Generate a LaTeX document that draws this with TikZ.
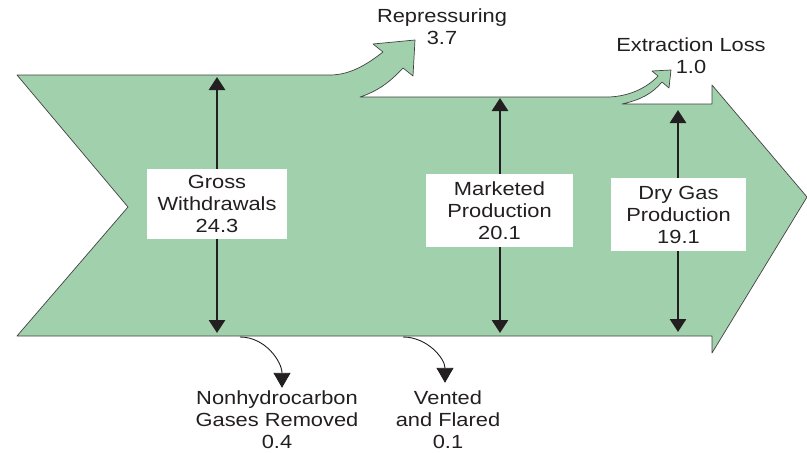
\documentclass[tikz,border=0pt]{standalone}
\usepackage{fontspec}
\setmainfont[FakeStretch=1.15]{Liberation Sans}
\usetikzlibrary{arrows.meta}
\definecolor{gasgreen}{RGB}{160,209,172}
\definecolor{ink}{RGB}{35,31,32}
\begin{document}
\begin{tikzpicture}[x=1pt,y=-1pt,line join=round,font=\fontsize{19}{22}\selectfont,
	valbox/.style={fill=white,align=center,inner sep=0pt,text=ink},
	lbl/.style={align=center,inner sep=0pt,text=ink},
	dbl/.style={{Triangle[width=16pt,length=13pt]}-{Triangle[width=16pt,length=13pt]},line width=2.8pt,draw=ink},
	drop/.style={-{Triangle[width=17pt,length=15pt]},line width=0.9pt,draw=ink}]
				\useasboundingbox (0,0) rectangle (807,453);
				% flow body
				\draw[fill=gasgreen,draw=ink!85,line width=0.7pt] (17,75)--(330,75)
					.. controls (352,75) and (370,62) .. (383,52)--(373,44)--(415,40)--(413,76)--(403,68)
					.. controls (390,82) and (378,91) .. (360,97)--(607,97)
					.. controls (625,97) and (645,90) .. (658,76)--(652,71)--(671,70)--(669,88)--(662,82)
					.. controls (652,94) and (640,100) .. (622,104)--(712,104)--(712,85)--(807,197)--(712,353)--(712,336)
					--(17,336)--(128,207)--cycle;
				\foreach \n/\x/\t/\b in {gross/217/77/333,mkt/500/98/333,dry/678/110/332}{
					\coordinate (\n top) at (\x,\t);
					\coordinate (\n bot) at (\x,\b);
					\draw[dbl] (\n top)--(\n bot);
				}
				\node[valbox,minimum width=140pt,minimum height=70pt] (gross) at (217,204) {Gross\\Withdrawals\\24.3};
				\node[valbox,minimum width=147pt,minimum height=73pt] (mkt) at (499.5,210.5) {Marketed\\Production\\20.1};
				\node[valbox,minimum width=135pt,minimum height=73pt] (dry) at (678.5,214.5) {Dry Gas\\Production\\19.1};
				% side flows
				\node[lbl] (repress) at (442,27) {Repressuring\\3.7};
				\node[lbl] (extract) at (691,56) {Extraction Loss\\1.0};
				\node[lbl] (nonhc) at (277,420) {Nonhydrocarbon\\Gases Removed\\0.4};
				\node[lbl] (vented) at (448,420) {Vented\\and Flared\\0.1};
				\coordinate (nhout) at (240,337);
				\coordinate (vfout) at (403,337);
				\draw[drop] (nhout) to[out=0,in=90] ([xshift=5pt,yshift=3pt]nonhc.north);
				\draw[drop] (vfout) to[out=0,in=90] ([xshift=-3pt,yshift=8pt]vented.north);
			\end{tikzpicture}
\end{document}
